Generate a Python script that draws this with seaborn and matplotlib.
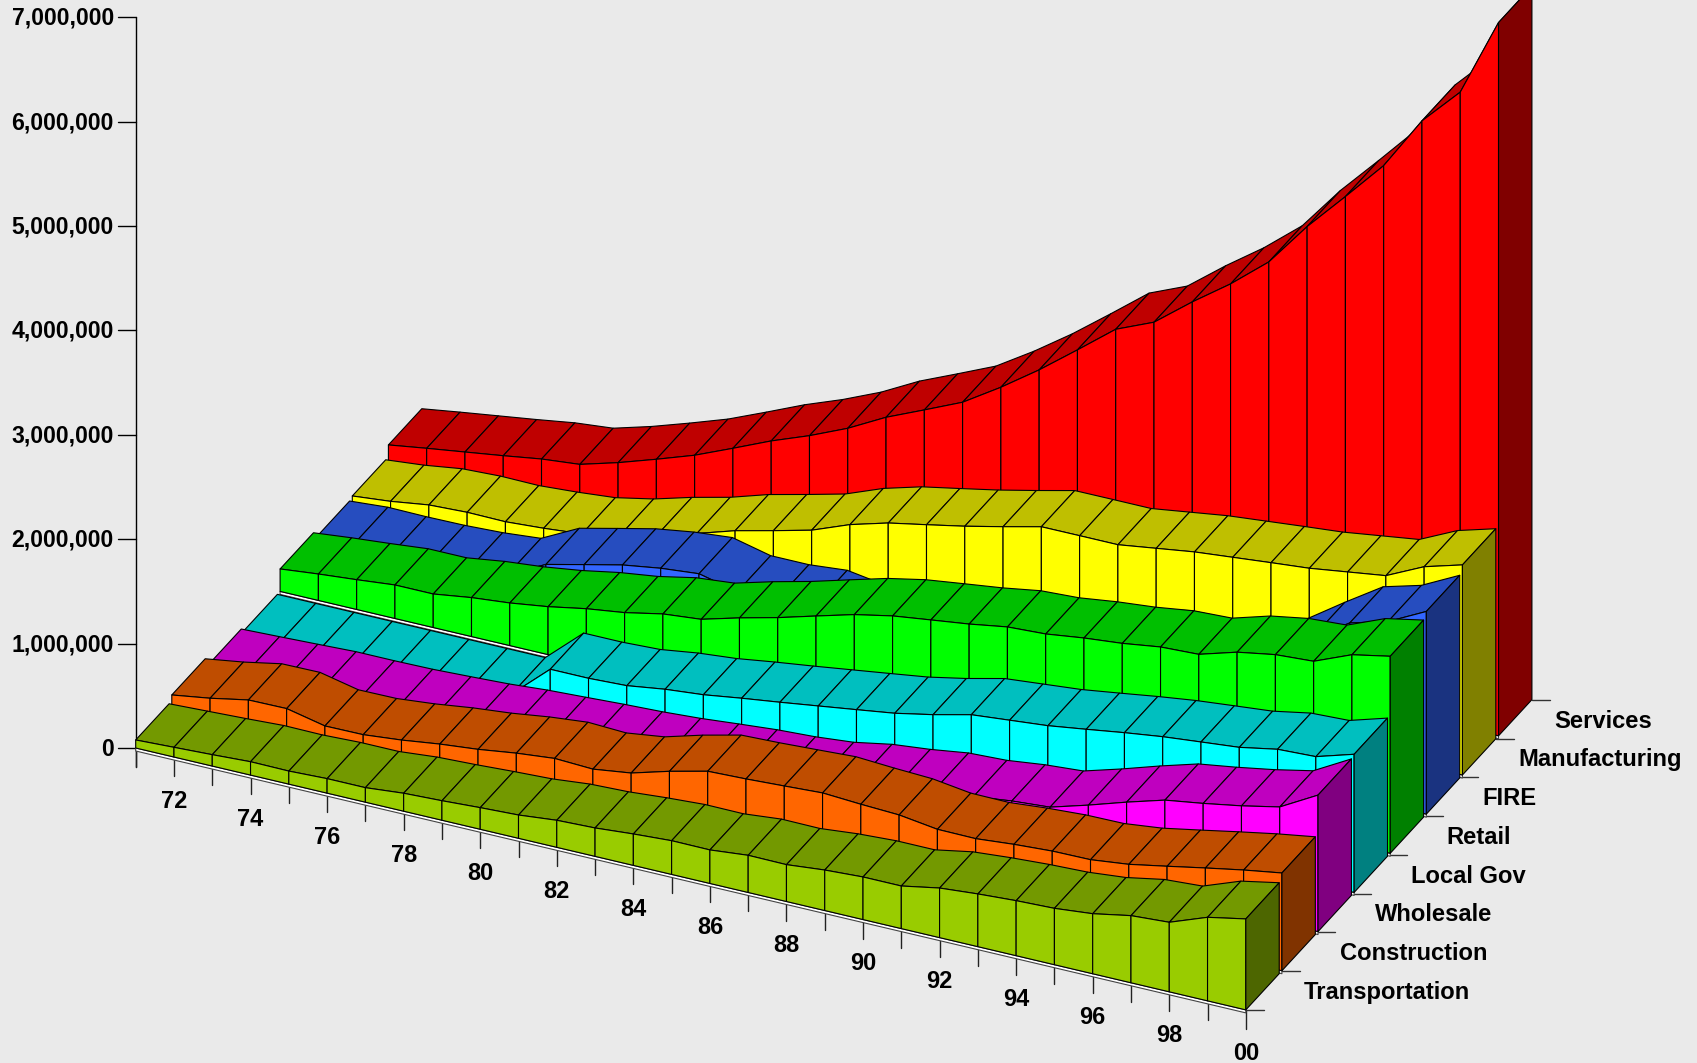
# plot.py
# 3D-Baender (Ribbon) mit schraeger Projektion auf eine 2D-Achse
import numpy as np
import pandas as pd
import matplotlib
matplotlib.use("Agg")
import matplotlib.pyplot as plt
from matplotlib.collections import PolyCollection
import seaborn as sns

# Daten in Tausend
years = [71 + i for i in range(30)]
year_labels = ["72", "74", "76", "78", "80", "82", "84", "86", "88", "90", "92", "94", "96", "98", "00"]
series_names = ["Transportation", "Construction", "Wholesale", "Local Gov", "Retail", "FIRE", "Manufacturing", "Services"]

transportation = [77, 93, 109, 128, 125, 139, 139, 172, 187, 207, 223, 259, 272, 301, 323,
                  321, 356, 353, 388, 408, 408, 475, 505, 527, 540, 575, 643, 666, 800, 871]
construction = [133, 188, 258, 262, 182, 185, 220, 268, 304, 354, 390, 374, 423, 526, 613,
                626, 645, 665, 643, 627, 576, 573, 605, 627, 631, 673, 741, 811, 878, 936]
wholesale = [43, 56, 70, 85, 85, 90, 105, 122, 150, 168, 187, 202, 225, 258, 289,
             308, 342, 409, 447, 499, 515, 559, 586, 692, 807, 913, 968, 1031, 1107, 1307]
local_gov = [0, 0, 0, 0, 0, 0, 0, 0, 321, 321, 337, 389, 423, 476, 524,
             575, 626, 678, 751, 837, 871, 905, 957, 1011, 1059, 1095, 1130, 1198, 1214, 1323]
retail = [215, 253, 285, 321, 321, 373, 408, 459, 526, 575, 649, 684, 784, 873, 975,
          1075, 1149, 1197, 1244, 1303, 1322, 1370, 1405, 1457, 1473, 1580, 1643, 1666, 1815, 1887]
fire = [144, 171, 167, 171, 187, 219, 402, 487, 570, 625, 659, 572, 572, 605, 548,
        685, 709, 757, 805, 843, 881, 929, 996, 1006, 1073, 1176, 1423, 1658, 1758, 1941]
manufacturing = [164, 199, 251, 267, 263, 287, 320, 394, 496, 583, 696, 783, 874, 1014, 1116,
                 1186, 1258, 1340, 1426, 1427, 1427, 1479, 1531, 1566, 1601, 1634, 1685, 1736, 1908, 2012]
services = [278, 332, 383, 434, 489, 524, 627, 746, 871, 1024, 1181, 1318, 1475, 1667, 1824,
            1984, 2214, 2467, 2745, 3029, 3183, 3464, 3723, 4020, 4445, 4819, 5202, 5717, 6079, 6832]
all_series = [transportation, construction, wholesale, local_gov, retail, fire, manufacturing, services]
y_ticks = [0, 1000000, 2000000, 3000000, 4000000, 5000000, 6000000, 7000000]

face_colors = ["#99CC00", "#FF6600", "#FF00FF", "#00FFFF", "#00FF00", "#3366FF", "#FFFF00", "#FF0000"]
top_colors = ["#739900", "#BF4D00", "#BF00BF", "#00BFBF", "#00BF00", "#264DBF", "#BFBF00", "#BF0000"]
side_colors = ["#4D6600", "#803300", "#800080", "#008080", "#008000", "#1A3380", "#808000", "#800000"]
BG = "#EAEAEA"

# Projektion: Jahr-Index i, Reihe s, Wert in Tausend -> Pixel
X0, Y0 = 135.7, 748.0
YEAR_DX, YEAR_DY = 38.28, 9.03
SLOT_DX, SLOT_DY = 36.1, -39.15
WIDTH_DX, WIDTH_DY = 33.4, -36.2
PX_PER_K = 0.1044


def project(i, s, val=0.0, back=False):
    x = X0 + YEAR_DX * i + SLOT_DX * s
    y = Y0 + YEAR_DY * i + SLOT_DY * s - val * PX_PER_K
    if back:
        x += WIDTH_DX
        y += WIDTH_DY
    return (x, y)


sns.set_theme(style="white")
plt.rcParams["font.family"] = ["Liberation Sans", "DejaVu Sans"]

df = pd.DataFrame({name: vals for name, vals in zip(series_names, all_series)}, index=years)

fig = plt.figure(figsize=(16.97, 10.63), dpi=100, facecolor=BG)
ax = fig.add_axes([0, 0, 1, 1])
ax.set_xlim(0, 1697)
ax.set_ylim(1063, 0)
ax.axis("off")

# Baender von hinten nach vorne sammeln
polys, fills, edges = [], [], []
n = len(years)
for s in range(len(series_names) - 1, -1, -1):
    vals = df[series_names[s]].to_numpy(dtype=float)
    # schmaler heller Streifen unter dem Band
    a, b = project(0, s), project(n - 1, s)
    polys.append([a, b, (b[0], b[1] + 3), (a[0], a[1] + 3)])
    fills.append("white")
    edges.append("#444444")
    for i in range(n - 1):
        polys.append([project(i, s, vals[i]), project(i + 1, s, vals[i + 1]),
                      project(i + 1, s, vals[i + 1], True), project(i, s, vals[i], True)])
        fills.append(top_colors[s])
        edges.append("black")
        polys.append([project(i, s, vals[i]), project(i + 1, s, vals[i + 1]),
                      project(i + 1, s), project(i, s)])
        fills.append(face_colors[s])
        edges.append("black")
    polys.append([project(n - 1, s, vals[-1]), project(n - 1, s, vals[-1], True),
                  project(n - 1, s, 0, True), project(n - 1, s)])
    fills.append(side_colors[s])
    edges.append("black")

ax.add_collection(PolyCollection(polys, facecolors=fills, edgecolors=edges,
                                 linewidths=0.8, zorder=3))

# Wertachse
sns.lineplot(x=[X0, X0], y=[17, 767], color="black", lw=1, sort=False, estimator=None,
             ax=ax, legend=False, zorder=2)
for v in y_ticks:
    yy = Y0 - v / 1000 * PX_PER_K
    ax.plot([X0 - 18, X0], [yy, yy], color="black", lw=1, zorder=2)
    ax.text(114, yy + 1, f"{v:,}", ha="right", va="center", fontsize=16.6, fontweight="bold", color="black")

# Jahresachse
for i in range(n):
    fx, fy = project(i, 0)
    ax.plot([fx, fx], [fy, fy + 19], color="#222222", lw=1, zorder=2)
for i, lab in zip(range(1, n, 2), year_labels):
    fx, fy = project(i, 0)
    ax.text(fx, fy + 44, lab, ha="center", va="center", fontsize=17, fontweight="bold", color="black")

# Reihenachse
for s in range(len(series_names) + 1):
    tx = X0 + YEAR_DX * (n - 1) + 35.75 * s
    ty = Y0 + YEAR_DY * (n - 1) - 38.75 * s
    ax.plot([tx, tx + 18], [ty, ty], color="#333333", lw=1, zorder=2)
    if s < len(series_names):
        ax.text(tx + 58, ty - 17.5, series_names[s], ha="left", va="center", fontsize=17.1,
                fontweight="bold", color="black")

plt.savefig("out.png", dpi=100, facecolor=BG)
plt.close("all")
